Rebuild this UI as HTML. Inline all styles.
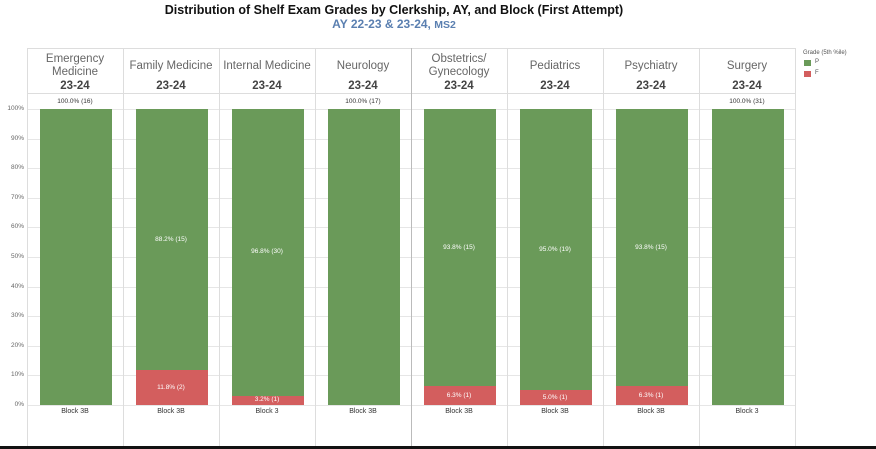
<!DOCTYPE html><html><head><style>
body{margin:0;width:876px;height:449px;background:#fff;position:relative;overflow:hidden;font-family:"Liberation Sans",sans-serif}
.a{position:absolute}
.t{position:absolute;white-space:nowrap;text-align:center}
.g{background:#6a9a59}.r{background:#d35e5e}
</style></head><body>
<div class="t" style="left:0;width:788px;top:3px;font-size:12.5px;font-weight:bold;color:#111">Distribution of Shelf Exam Grades by Clerkship, AY, and Block (First Attempt)</div>
<div class="t" style="left:0;width:788px;top:17px;font-size:12px;font-weight:bold;color:#5a7fb0">AY 22-23 &amp; 23-24, <span style="font-size:10.5px">MS2</span></div>
<div class="a" style="left:27px;top:48px;width:768px;height:1px;background:#ddd"></div>
<div class="a" style="left:27px;top:93px;width:768px;height:1px;background:#ddd"></div>
<div id="c"></div>
<div class="a" style="left:0;top:446px;width:876px;height:3px;background:#111"></div>
<div class="t" style="left:803px;top:50px;font-size:6px;color:#555;text-align:left">Grade (5th %ile)</div>
<div class="a g" style="left:804px;top:60px;width:7px;height:6px"></div><div class="t" style="left:815px;top:59px;font-size:6px;color:#555">P</div>
<div class="a r" style="left:804px;top:71px;width:7px;height:6px"></div><div class="t" style="left:815px;top:70px;font-size:6px;color:#555">F</div>
<script>
var h='';
for(var k=0;k<=10;k++){var y=405-29.6*k;h+='<div class="a" style="left:27px;top:'+y+'px;width:768px;height:1px;background:#e6e6e6"></div><div class="t" style="left:0;width:24px;text-align:right;top:'+(y-4)+'px;font-size:6.5px;color:#666">'+k*10+'%</div>';}
var d=[["Emergency<br>Medicine",0,"100.0% (16)","","Block 3B"],["Family Medicine",11.8,"88.2% (15)","11.8% (2)","Block 3B"],["Internal Medicine",3.2,"96.8% (30)","3.2% (1)","Block 3"],["Neurology",0,"100.0% (17)","","Block 3B"],["Obstetrics/<br>Gynecology",6.3,"93.8% (15)","6.3% (1)","Block 3B"],["Pediatrics",5,"95.0% (19)","5.0% (1)","Block 3B"],["Psychiatry",6.3,"93.8% (15)","6.3% (1)","Block 3B"],["Surgery",0,"100.0% (31)","","Block 3"]];
for(var i=0;i<=8;i++){var x=27+96*i;h+='<div class="a" style="left:'+x+'px;top:48px;width:1px;height:398px;background:'+(i==4?'#bbb':'#ddd')+'"></div>';}
d.forEach(function(c,i){var x=27+96*i;
var nm=c[0].indexOf('<br>')>0;
h+='<div class="t" style="left:'+x+'px;width:96px;top:'+(nm?53:60)+'px;font-size:11.5px;line-height:13px;color:#666">'+c[0]+'</div>';
h+='<div class="t" style="left:'+x+'px;width:96px;top:80px;font-size:11.5px;font-weight:bold;color:#444">23-24</div>';
var rh=c[1]*2.96;
h+='<div class="a g" style="left:'+(x+13)+'px;top:109px;width:72px;height:'+(296-rh)+'px"></div>';
if(rh)h+='<div class="a r" style="left:'+(x+13)+'px;top:'+(405-rh)+'px;width:72px;height:'+rh+'px"></div><div class="t" style="left:'+x+'px;width:96px;top:'+(405-rh/2-4)+'px;font-size:6.5px;color:#fff">'+c[3]+'</div>';
if(c[1]==0)h+='<div class="t" style="left:'+x+'px;width:96px;top:98px;font-size:6.5px;color:#333">'+c[2]+'</div>';
else h+='<div class="t" style="left:'+x+'px;width:96px;top:'+(109+(296-rh)/2-4)+'px;font-size:6.5px;color:#fff">'+c[2]+'</div>';
h+='<div class="t" style="left:'+x+'px;width:96px;top:408px;font-size:7px;color:#333">'+c[4]+'</div>';
});
document.getElementById('c').innerHTML=h;
</script></body></html>
